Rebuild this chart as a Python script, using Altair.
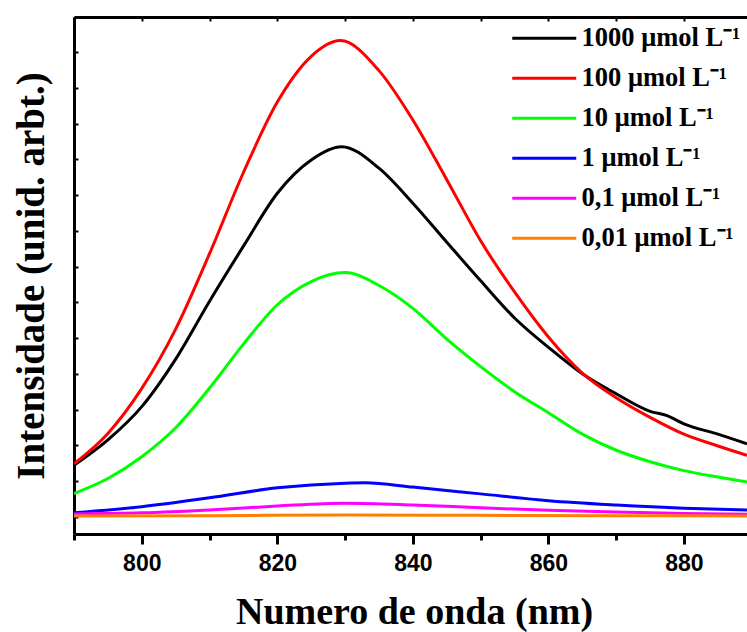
import altair as alt
import pandas as pd

# ---------------- data ----------------
series_labels = ["1000 μmol L⁻¹", "100 μmol L⁻¹", "10 μmol L⁻¹",
                 "1 μmol L⁻¹", "0,1 μmol L⁻¹", "0,01 μmol L⁻¹"]
series_colors = ["#000000", "#ff0000", "#00ff00", "#0000ff", "#ff00ff", "#ff8000"]

wl_1000 = [790, 795, 800, 805, 810, 815, 820, 825, 829.5, 835, 840,
           845, 850, 855, 860, 865, 870, 875, 877.5, 880, 885, 889.3]
int_1000 = [1.44, 2.15, 3.08, 4.41, 6.03, 7.57, 9.05, 9.98, 10.35, 9.75, 8.77,
            7.68, 6.60, 5.56, 4.74, 4.00, 3.44, 2.95, 2.83, 2.60, 2.31, 2.04]

wl_100 = [790, 795, 800, 805, 810, 815, 820, 825, 829.3, 835, 840, 845, 850, 855, 860,
          865, 870, 875, 880, 885, 889.3]
int_100 = [1.48, 2.33, 3.59, 5.25, 7.36, 9.63, 11.60, 12.88, 13.32, 12.48, 11.10, 9.43, 7.72,
           6.29, 5.03, 4.02, 3.33, 2.78, 2.31, 1.98, 1.72]

wl_10 = [790, 795, 800, 805, 810, 815, 820, 825, 830, 835, 840, 845, 850, 855, 860,
         865, 870, 875, 880, 885, 889.3]
int_10 = [0.65, 1.07, 1.68, 2.49, 3.60, 4.83, 5.93, 6.58, 6.83, 6.47, 5.83, 4.97, 4.20,
          3.50, 2.91, 2.31, 1.86, 1.54, 1.29, 1.11, 0.97]

wl_1 = [790, 800, 810, 820, 830, 833, 840, 850, 860, 870, 880, 889.3]
int_1 = [0.11, 0.28, 0.53, 0.81, 0.94, 0.95, 0.83, 0.64, 0.45, 0.33, 0.24, 0.19]

wl_01 = [790, 800, 810, 820, 830, 840, 850, 860, 870, 880, 889.3]
int_01 = [0.08, 0.11, 0.19, 0.30, 0.38, 0.33, 0.25, 0.18, 0.13, 0.09, 0.07]

wl_001 = [790, 810, 830, 850, 870, 889.3]
int_001 = [0.02, 0.03, 0.05, 0.04, 0.03, 0.02]

x_major = [800, 820, 840, 860, 880]
x_minor = [790, 810, 830, 850, 870]
x_top = [790, 800, 810, 820, 830, 840, 850, 860, 870, 880]
y_ticks = list(range(0, 14))

# ---------------- table ----------------
rows = []
for lab, xs, ys in zip(series_labels,
                       [wl_1000, wl_100, wl_10, wl_1, wl_01, wl_001],
                       [int_1000, int_100, int_10, int_1, int_01, int_001]):
    for xv, yv in zip(xs, ys):
        rows.append({"wl": xv, "intensity": yv, "series": lab})
df = pd.DataFrame(rows)

x_scale = alt.Scale(domain=[790, 889.3], nice=False, zero=False)
y_scale = alt.Scale(domain=[-0.4825, 13.98], nice=False, zero=False)

base = alt.Chart(df)

lines = base.mark_line(strokeWidth=3, interpolate="monotone", clip=True).encode(
    x=alt.X("wl:Q", scale=x_scale, axis=alt.Axis(
        orient="bottom", values=x_major, grid=False,
        domainWidth=3, domainColor="black", tickColor="black",
        tickSize=10, tickWidth=3,
        labelFont="Liberation Sans", labelFontWeight="bold", labelFontSize=23,
        labelColor="black", labelPadding=8,
        title="Numero de onda (nm)", titleFont="Liberation Serif",
        titleFontWeight="bold", titleFontSize=38, titleColor="black",
        titleX=340, titleY=89, titleBaseline="alphabetic", titleAlign="center")),
    y=alt.Y("intensity:Q", scale=y_scale, axis=alt.Axis(
        orient="left", grid=False, labels=False, ticks=False,
        domainWidth=3, domainColor="black",
        title="Intensidade (unid. arbt.)", titleFont="Liberation Serif",
        titleFontWeight="bold", titleFontSize=39, titleColor="black",
        titleX=-31, titleY=258.5, titleAngle=-90, titleBaseline="alphabetic",
        titleAlign="center")),
    color=alt.Color("series:N",
                    scale=alt.Scale(domain=series_labels, range=series_colors),
                    sort=series_labels,
                    legend=alt.Legend(
                        title=None, orient="none", legendX=457, legendY=8,
                        symbolType="M-4,0H4", symbolSize=256, symbolStrokeWidth=3,
                        labelFont="Liberation Serif", labelFontWeight="bold",
                        labelFontSize=26.5, labelColor="black", labelOffset=24,
                        rowPadding=13, padding=0, labelLimit=400)),
)

# frame layer: top border with inward ticks, left inward ticks
frame = base.mark_line(strokeOpacity=0).encode(
    x=alt.X("wl:Q", scale=x_scale, axis=alt.Axis(
        orient="bottom", offset=-517, values=x_top, grid=False, labels=False,
        domainWidth=3, domainColor="black", tickColor="black",
        tickSize=4, tickWidth=2, title=None)),
    y=alt.Y("intensity:Q", scale=y_scale, axis=alt.Axis(
        orient="right", offset=-673, values=y_ticks, grid=False, labels=False,
        domain=False, tickColor="black", tickSize=4, tickWidth=2, title=None)),
    detail="series:N",
)

# minor ticks on the bottom axis
minor = base.mark_line(strokeOpacity=0).encode(
    x=alt.X("wl:Q", scale=x_scale, axis=alt.Axis(
        orient="bottom", values=x_minor, grid=False, labels=False, domain=False,
        tickColor="black", tickSize=6, tickWidth=3, title=None)),
    y=alt.Y("intensity:Q", scale=y_scale, axis=None),
    detail="series:N",
)

chart = alt.layer(lines, frame, minor).resolve_axis(
    x="independent", y="independent"
).properties(
    width=673, height=517,
    padding={"left": 74, "top": 17, "right": 0, "bottom": 98},
    autosize=alt.AutoSizeParams(type="none"),
    background="white",
).configure_view(strokeWidth=0)

chart.save("out.html", embed_options={"renderer": "svg", "actions": False})
